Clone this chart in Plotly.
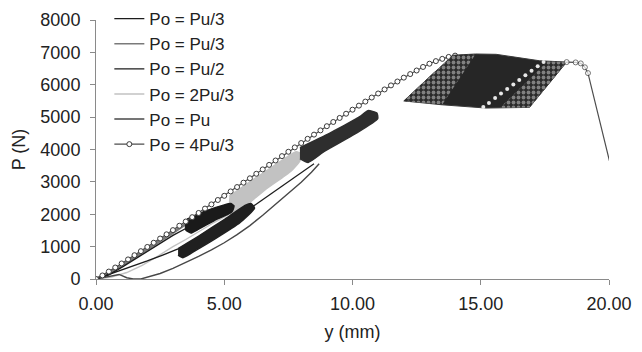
import plotly.graph_objects as go

# ---------------- data ----------------
legend_names = ["Po = Pu/3", "Po = Pu/3", "Po = Pu/2", "Po = 2Pu/3", "Po = Pu", "Po = 4Pu/3"]

# Po = Pu/3 (black): loading path and cyclic band
s1_y = [0, 0.5, 1.05, 1.5, 2.0, 2.5, 3.0, 3.5]
s1_P = [0, 130, 380, 600, 860, 1110, 1350, 1560]
band1_y = [3.55, 4.2, 5.0, 5.25, 5.38, 5.3, 4.6, 4.0, 3.7, 3.5, 3.5]
band1_P = [1850, 2080, 2290, 2330, 2260, 2080, 1800, 1540, 1420, 1520, 1720]

# Po = Pu/3 (grey)
s2_y = [0, 0.5, 1.0, 1.5, 2.0, 2.5, 3.0, 3.5, 3.8]
s2_P = [0, 180, 410, 660, 920, 1180, 1440, 1700, 1860]

# Po = Pu/2 (black): loading path, cyclic band, reloading
s3_y = [0, 0.4, 0.9, 1.5, 2.0, 2.6, 3.2]
s3_P = [0, 110, 250, 420, 560, 740, 930]
band3_y = [3.20, 4.05, 5.03, 5.81, 6.04, 6.18, 5.61, 4.64, 3.86, 3.39, 3.20]
band3_P = [940, 1350, 1850, 2270, 2330, 2190, 1740, 1240, 870, 660, 740]
s3b_y = [6.1, 7.2, 8.5]
s3b_P = [2230, 2830, 3560]

# Po = 2Pu/3 (light grey)
s4_y = [0, 0.6, 1.2, 1.8, 2.4, 3.0, 3.5, 4.0, 4.6, 5.2]
s4_P = [0, 60, 200, 420, 700, 1000, 1220, 1470, 1745, 2000]
band4_y = [5.2, 6.0, 7.0, 7.8, 8.02, 7.95, 7.6, 6.6, 5.9, 5.3, 5.15]
band4_P = [2560, 3000, 3530, 3930, 3860, 3650, 3330, 2760, 2300, 1950, 2150]

# Po = Pu (dark grey)
s5_y = [0, 0.5, 0.9, 1.2, 1.45, 1.75, 2.0, 2.5, 3.0, 3.5, 4.0, 4.5, 5.0, 5.5, 6.0, 6.5, 7.0, 7.5, 8.0, 8.4, 8.7]
s5_P = [0, 90, 140, 40, 0, 0, 50, 170, 330, 510, 700, 900, 1120, 1370, 1650, 1970, 2300, 2640, 2990, 3300, 3560]
band5_y = [7.95, 9.1, 10.3, 10.6, 10.95, 10.98, 10.1, 8.9, 8.27, 7.95]
band5_P = [4060, 4500, 5020, 5200, 5130, 4950, 4480, 3940, 3600, 3720]

# Po = 4Pu/3 (with circles): ascending branch
s6_y = [0.00, 0.25, 0.50, 0.75, 1.00, 1.25, 1.50, 1.75, 2.00, 2.25, 2.50, 2.75, 3.00, 3.25,
        3.50, 3.75, 4.00, 4.25, 4.50, 4.75, 5.00, 5.25, 5.50, 5.75, 6.00, 6.25, 6.50, 6.75,
        7.00, 7.25, 7.50, 7.75, 8.00, 8.25, 8.50, 8.75, 9.00, 9.25, 9.50, 9.75, 10.00, 10.25,
        10.50, 10.75, 11.00, 11.25, 11.50, 11.75, 12.00, 12.25, 12.50, 12.75, 13.00, 13.25,
        13.50, 13.75, 14.00]
s6_P = [0, 110, 230, 355, 480, 605, 735, 860, 990, 1120, 1250, 1380, 1510, 1645,
        1775, 1910, 2040, 2175, 2305, 2440, 2570, 2705, 2840, 2975, 3110, 3250, 3385, 3525,
        3660, 3795, 3930, 4065, 4200, 4330, 4460, 4590, 4720, 4850, 4975, 5105, 5230, 5355,
        5480, 5605, 5730, 5855, 5980, 6100, 6220, 6330, 6440, 6550, 6650, 6730,
        6800, 6860, 6900]
# 4Pu/3 cyclic band outline and its textured parts
band6_y = [13.9, 14.8, 15.6, 16.5, 17.3, 18.35, 17.6, 16.9, 15.2, 13.5, 12.0, 12.5, 13.2]
band6_P = [6910, 6950, 6940, 6840, 6740, 6700, 5980, 5300, 5280, 5380, 5500, 5870, 6390]
tex6a_y = [12.0, 12.5, 13.2, 13.9, 14.8, 13.5]
tex6a_P = [5500, 5870, 6390, 6910, 6950, 5390]
tex6b_y = [15.75, 17.6, 18.35, 17.6, 16.9]
tex6b_P = [5290, 6720, 6700, 5980, 5300]
dots6_y = [15.10, 15.32, 15.56, 15.79, 16.03, 16.27, 16.50, 16.74, 16.98, 17.22, 17.45]
dots6_P = [5310, 5440, 5590, 5730, 5870, 6010, 6150, 6290, 6430, 6570, 6700]
# failure branch
tail6_y = [18.35, 18.7, 18.9, 19.06, 19.18, 20.02]
tail6_P = [6700, 6690, 6660, 6540, 6360, 3640]

# ---------------- styles ----------------
FONT = "Liberation Sans, Arial, sans-serif"
C_BLACK = "#1c1c1c"
C_GREY = "#7a7a7a"
C_LIGHT = "#c2c2c2"
C_DARK = "#474747"
C_CIRC = "#4d4d4d"

fig = go.Figure()

def line(x, y, color, width=1.4, name=None, rank=None, show=False):
    fig.add_trace(go.Scatter(x=x, y=y, mode="lines", line=dict(color=color, width=width),
                             name=name, showlegend=show, legendrank=rank, hoverinfo="skip"))

def blob(x, y, color):
    fig.add_trace(go.Scatter(x=x, y=y, mode="lines", fill="toself", fillcolor=color,
                             line=dict(color=color, width=1.5, shape="spline", smoothing=0.5),
                             showlegend=False, hoverinfo="skip"))

# loading paths
line(s4_y, s4_P, C_LIGHT, 1.4, legend_names[3], 4, True)
line(s5_y, s5_P, C_DARK, 1.4, legend_names[4], 5, True)
line(s2_y, s2_P, C_GREY, 3.0)
line(s3_y, s3_P, C_BLACK, 1.4, legend_names[2], 3, True)
line(s3b_y, s3b_P, C_BLACK, 1.2)
line(s1_y, s1_P, C_BLACK, 1.4, legend_names[0], 1, True)

# cyclic bands
blob(band4_y, band4_P, C_LIGHT)
blob(band3_y, band3_P, "#202020")
blob(band1_y, band1_P, "#1a1a1a")
blob(band5_y, band5_P, "#2e2e2e")

# legend-only entry for grey Pu/3 (thin line in legend)
fig.add_trace(go.Scatter(x=[None], y=[None], mode="lines", line=dict(color=C_GREY, width=1.4),
                         name=legend_names[1], legendrank=2, showlegend=True))

# 4Pu/3 ascending branch with circles
fig.add_trace(go.Scatter(x=s6_y, y=s6_P, mode="lines+markers", name=legend_names[5], legendrank=6,
                         line=dict(color=C_CIRC, width=1.2),
                         marker=dict(symbol="circle", size=5, color="white",
                                     line=dict(color="#3a3a3a", width=1)),
                         hoverinfo="skip"))

# 4Pu/3 cyclic band
fig.add_trace(go.Scatter(x=band6_y, y=band6_P, mode="lines", fill="toself", fillcolor="#262626",
                         line=dict(color="#3a3a3a", width=1), showlegend=False, hoverinfo="skip"))
for tx, ty in [(tex6a_y, tex6a_P), (tex6b_y, tex6b_P)]:
    fig.add_trace(go.Scatter(x=tx, y=ty, mode="lines", fill="toself", fillcolor="#262626",
                             fillpattern=dict(shape=".", bgcolor="#2a2a2a", fgcolor="#d8d8d8",
                                              size=5, solidity=0.45),
                             line=dict(width=0), showlegend=False, hoverinfo="skip"))
fig.add_trace(go.Scatter(x=dots6_y, y=dots6_P, mode="markers",
                         marker=dict(size=4, color="#e8e8e8", line=dict(width=0)),
                         showlegend=False, hoverinfo="skip"))
fig.add_trace(go.Scatter(x=tail6_y, y=tail6_P, mode="lines+markers",
                         line=dict(color=C_CIRC, width=1.2),
                         marker=dict(symbol="circle", size=[5, 5, 5, 5, 5, 0], color="white",
                                     line=dict(color="#3a3a3a", width=1)),
                         showlegend=False, hoverinfo="skip"))

axis_common = dict(showline=True, linecolor="#8a8a8a", linewidth=1, ticks="outside",
                   tickcolor="#8a8a8a", ticklen=5, tickwidth=1, showgrid=False, zeroline=False,
                   tickfont=dict(family=FONT, size=18, color="#222"),
                   title_font=dict(family=FONT, size=18, color="#222"))

fig.update_layout(
    width=642, height=352,
    margin=dict(l=96, r=33, t=20, b=73, autoexpand=False),
    paper_bgcolor="white", plot_bgcolor="white",
    font=dict(family=FONT, size=18, color="#222"),
    xaxis=dict(range=[0, 20], tickvals=[0, 5, 10, 15, 20],
               ticktext=["0.00", "5.00", "10.00", "15.00", "20.00"],
               ticklabelstandoff=3,
               title=dict(text="y (mm)", standoff=12), **axis_common),
    yaxis=dict(range=[0, 8000], dtick=1000, ticklabelstandoff=6,
               title=dict(text="P (N)", standoff=10), **axis_common),
    legend=dict(x=0.026, y=1.073, xanchor="left", yanchor="top", bgcolor="rgba(0,0,0,0)",
                font=dict(family=FONT, size=17, color="#222"), tracegroupgap=0,
                itemwidth=30),
    showlegend=True,
)

fig.write_html("out.html")
